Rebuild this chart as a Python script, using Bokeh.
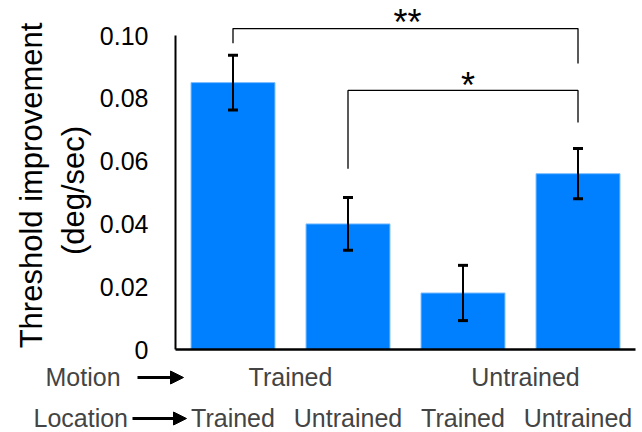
import math
from bokeh.plotting import figure
from bokeh.models import (ColumnDataSource, Range1d, Whisker, TeeHead, Label, Arrow, NormalHead)
from bokeh.core.properties import value
from bokeh.embed import file_html
from bokeh.resources import INLINE

# ---- data ----
conditions = ["M-trained / L-trained", "M-trained / L-untrained",
              "M-untrained / L-trained", "M-untrained / L-untrained"]
location_labels = ["Trained", "Untrained", "Trained", "Untrained"]
motion_labels = ["Trained", "Untrained"]
means = [0.085, 0.040, 0.018, 0.056]
sems = [0.0087, 0.0084, 0.0088, 0.0080]
y_ticks = [0, 0.02, 0.04, 0.06, 0.08, 0.10]
y_tick_labels = ["0", "0.02", "0.04", "0.06", "0.08", "0.10"]
sig_pairs = [(0, 3), (1, 3)]
sig_text = ["**", "*"]
bracket_top = [0.1022, 0.0825]
bracket_left_end = [0.0975, 0.0576]
bracket_right_end = [0.0911, 0.0723]

FONT = "Liberation Sans"

# layout geometry (canvas pixels of the plotting area) -> data coordinates
W, H = 642, 432
FRAME_LEFT_PX, FRAME_BOTTOM_PX, PX_PER_X, PX_PER_Y = 175.0, 349.0, 115.0, 3140.0
def X(px):
    return (px - FRAME_LEFT_PX) / PX_PER_X
def Y(py):
    return (FRAME_BOTTOM_PX - py) / PX_PER_Y

p = figure(width=W, height=H,
           x_range=Range1d(X(0), X(W)), y_range=Range1d(Y(H), Y(0)),
           output_backend="svg", toolbar_location=None,
           min_border_left=0, min_border_right=0, min_border_top=0, min_border_bottom=0)
p.axis.visible = False
p.outline_line_color = None
p.grid.visible = False
p.background_fill_color = "white"
p.border_fill_color = "white"

xc = [i + 0.5 for i in range(len(conditions))]
src = ColumnDataSource(dict(
    x=xc, cond=conditions, mean=means,
    upper=[m + s for m, s in zip(means, sems)],
    lower=[m - s for m, s in zip(means, sems)],
))
p.vbar(x="x", top="mean", width=0.73, source=src,
       fill_color="#0080FF", line_color="#80BFFF", line_width=1)

w = Whisker(source=src, base="x", upper="upper", lower="lower",
            line_color="black", line_width=2, level="overlay",
            upper_head=TeeHead(size=10, line_width=3, line_color="black"),
            lower_head=TeeHead(size=10, line_width=3, line_color="black"))
p.add_layout(w)

# axes lines and tick labels
n = len(conditions)
p.segment(x0=[0], y0=[y_ticks[0]], x1=[0], y1=[y_ticks[-1]], line_color="black", line_width=2)
p.segment(x0=[0], y0=[0], x1=[n], y1=[0], line_color="black", line_width=2.5)
p.text(x=[X(148)] * len(y_ticks), y=y_ticks, text=y_tick_labels,
       text_align="right", text_baseline="middle",
       text_font=value(FONT), text_font_size="25px", text_color="black")

# significance brackets
xs, ys = [], []
for (a, b), top, le, re in zip(sig_pairs, bracket_top, bracket_left_end, bracket_right_end):
    xs.append([xc[a], xc[a], xc[b], xc[b]])
    ys.append([le, top, top, re])
p.multi_line(xs=xs, ys=ys, line_color="black", line_width=1.3)

star_baselines_px = [22, 85]
star_dx_px = [2, 5]
for (a, b), t, by, dx in zip(sig_pairs, sig_text, star_baselines_px, star_dx_px):
    xm = (xc[a] + xc[b]) / 2 + dx / PX_PER_X
    p.add_layout(Label(x=xm, y=Y(by), text=t, text_align="center",
                       text_baseline="alphabetic", text_font=FONT,
                       text_font_size="36px", text_color="black"))

# y title (two lines)
p.add_layout(Label(x=X(31), y=Y(185), text="Threshold improvement", angle=math.pi / 2,
                   text_align="center", text_baseline="middle", text_font=FONT,
                   text_font_size="31px", text_color="black"))
p.add_layout(Label(x=X(73), y=Y(190), text="(deg/sec)", angle=math.pi / 2,
                   text_align="center", text_baseline="middle", text_font=FONT,
                   text_font_size="31px", text_color="black"))

# bottom label rows
motion_base, loc_base = 376, 417
p.add_layout(Label(x=X(45), y=Y(motion_base), text="Motion", text_align="left",
                   text_baseline="alphabetic", text_font=FONT, text_font_size="25px"))
p.add_layout(Label(x=X(33), y=Y(loc_base), text="Location", text_align="left",
                   text_baseline="alphabetic", text_font=FONT, text_font_size="25px"))
for x0, x1, yy in [(137, 183, 377), (132, 186, 418)]:
    p.add_layout(Arrow(x_start=X(x0), y_start=Y(yy), x_end=X(x1), y_end=Y(yy),
                       line_width=3, line_color="black",
                       end=NormalHead(size=13, fill_color="black", line_color="black", line_width=1)))

motion_centers_px = [290, 525]
for t, cx in zip(motion_labels, motion_centers_px):
    p.add_layout(Label(x=X(cx), y=Y(motion_base), text=t, text_align="center",
                       text_baseline="alphabetic", text_font=FONT, text_font_size="25px"))
for x, t in zip(xc, location_labels):
    p.add_layout(Label(x=x, y=Y(loc_base), text=t, text_align="center",
                       text_baseline="alphabetic", text_font=FONT, text_font_size="25px"))

open("out.html", "w").write(file_html(p, INLINE))
